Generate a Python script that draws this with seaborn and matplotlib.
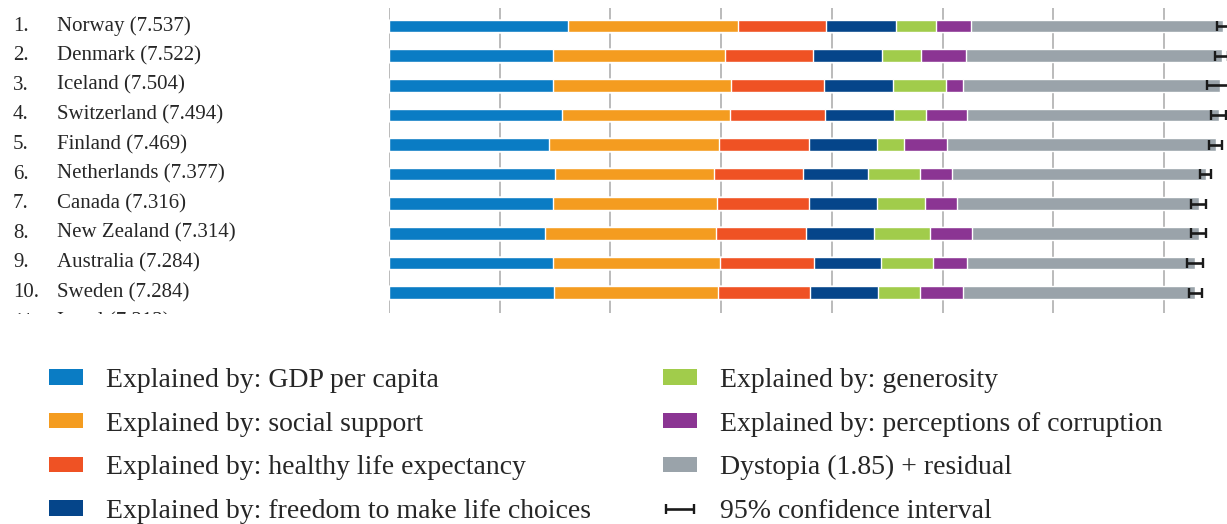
import matplotlib
matplotlib.use("Agg")
import matplotlib.pyplot as plt
from matplotlib import transforms
from matplotlib.patches import Patch
import numpy as np
import pandas as pd
import seaborn as sns

ranks = ["1.", "2.", "3.", "4.", "5.", "6.", "7.", "8.", "9.", "10."]
countries = ["Norway", "Denmark", "Iceland", "Switzerland", "Finland",
             "Netherlands", "Canada", "New Zealand", "Australia", "Sweden"]
scores = [7.537, 7.522, 7.504, 7.494, 7.469, 7.377, 7.316, 7.314, 7.284, 7.284]
ci_low = [7.480, 7.462, 7.386, 7.426, 7.410, 7.327, 7.249, 7.249, 7.213, 7.224]
ci_high = [7.594, 7.582, 7.622, 7.562, 7.528, 7.427, 7.384, 7.380, 7.356, 7.344]

gdp = [1.616, 1.482, 1.481, 1.565, 1.444, 1.504, 1.479, 1.406, 1.484, 1.494]
social = [1.534, 1.551, 1.611, 1.517, 1.540, 1.429, 1.481, 1.548, 1.510, 1.478]
health = [0.797, 0.793, 0.834, 0.858, 0.809, 0.811, 0.835, 0.817, 0.844, 0.831]
freedom = [0.635, 0.626, 0.627, 0.620, 0.618, 0.585, 0.611, 0.614, 0.602, 0.613]
generosity = [0.362, 0.355, 0.476, 0.291, 0.245, 0.470, 0.436, 0.500, 0.478, 0.385]
corruption = [0.316, 0.401, 0.154, 0.367, 0.383, 0.283, 0.287, 0.383, 0.301, 0.384]
dystopia = [2.277, 2.314, 2.323, 2.277, 2.430, 2.295, 2.187, 2.046, 2.065, 2.098]

next_rank = "11."
next_label = "Israel (7.213)"

parts = ["Explained by: GDP per capita", "Explained by: social support",
         "Explained by: healthy life expectancy", "Explained by: freedom to make life choices",
         "Explained by: generosity", "Explained by: perceptions of corruption",
         "Dystopia (1.85) + residual"]
colors = ["#0a7cc4", "#f49c20", "#ef5224", "#05458a", "#a1cc4b", "#8b3593", "#9aa3aa"]

labels = [f"{c} ({s:.3f})" for c, s in zip(countries, scores)]
df = pd.DataFrame(dict(zip(parts, [gdp, social, health, freedom, generosity, corruption, dystopia])),
                  index=labels)
cum = df.cumsum(axis=1)

sns.set_style("white")
plt.rcParams["font.family"] = ["Liberation Serif", "DejaVu Serif"]
txt_color = "#262626"

fig = plt.figure(figsize=(12.27, 5.24), dpi=100)
ax = fig.add_axes([389 / 1227, 1 - 313 / 524, 1 - 389 / 1227, (313 - 8) / 524])

# stack by drawing the longest cumulative bar first
for part, color in reversed(list(zip(parts, colors))):
    sns.barplot(x=cum[part].values, y=labels, color=color, saturation=1,
                width=0.43, orient="h", ax=ax, zorder=2)

err = [np.array(scores) - np.array(ci_low), np.array(ci_high) - np.array(scores)]
eb = ax.errorbar(scores, range(len(scores)), xerr=err, fmt="none", ecolor="#1a1a1a",
                 elinewidth=1.9, capsize=3.8, capthick=1.7, zorder=3,
                 label="95% confidence interval")

ax.set_xlim(0, 838 / 110.7)
ax.set_ylim(9.69, -0.61)
ax.set_xticks(range(8))
ax.set_yticks([])
ax.set_xlabel("")
ax.set_ylabel("")
ax.tick_params(length=0, labelbottom=False)
ax.grid(axis="x", color="#a8a8a8", lw=1.1)
ax.set_axisbelow(True)
for s in ax.spines.values():
    s.set_visible(False)

trans = transforms.blended_transform_factory(fig.transFigure, ax.transData)
for i, (r, lab) in enumerate(zip(ranks, labels)):
    ax.text(13 / 1227, i, r, transform=trans, ha="left", va="center",
            fontsize=15, color=txt_color, clip_on=False)
    ax.text(57 / 1227, i, lab, transform=trans, ha="left", va="center",
            fontsize=15, color=txt_color, clip_on=False)

# the next row is cut off by the crop
clip = transforms.TransformedBbox(transforms.Bbox.from_extents(0, 1 - 314 / 524, 1, 1),
                                  fig.transFigure)
for x, t in [(13, next_rank), (57, next_label)]:
    txt = ax.text(x / 1227, len(labels), t, transform=trans, ha="left", va="center",
                  fontsize=15, color=txt_color)
    txt.set_clip_box(clip)
    txt.set_clip_on(True)

handles = [Patch(facecolor=c, edgecolor="none") for c in colors] + [eb]
names = parts + ["95% confidence interval"]
leg_kw = dict(loc="upper left", frameon=False, fontsize=20, handlelength=1.22,
              handleheight=0.48, handletextpad=0.83, labelspacing=0.67,
              borderpad=0, borderaxespad=0, labelcolor=txt_color)
leg1 = fig.legend(handles[:4], names[:4], bbox_to_anchor=(49 / 1227, 1 - 368 / 524), **leg_kw)
leg2 = fig.legend(handles[4:], names[4:], bbox_to_anchor=(663 / 1227, 1 - 368 / 524), **leg_kw)

fig.savefig("out.png", dpi=100)
